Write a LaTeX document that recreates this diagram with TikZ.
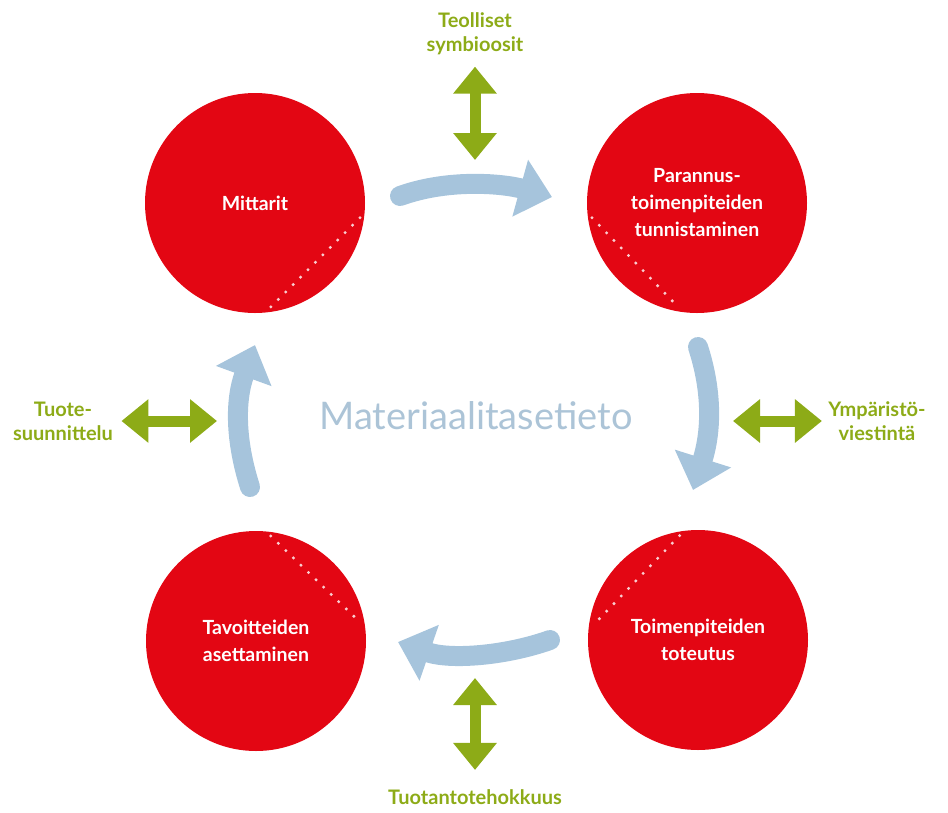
\documentclass[tikz,border=0pt]{standalone}
\usepackage{fontspec}
\setmainfont{Lato}
\usetikzlibrary{arrows.meta,calc}
\definecolor{mred}{RGB}{227,6,19}
\definecolor{flowblue}{RGB}{166,196,220}
\definecolor{textblue}{RGB}{172,196,215}
\definecolor{leafgreen}{RGB}{141,171,23}
\tikzset{>=stealth}
\tikzset{
  stage/.style={circle, fill=mred, minimum size=220pt, inner sep=0pt,
    text=white, font=\bfseries\fontsize{19.5}{27}\selectfont, align=center},
  dotline/.style={draw=white, line width=3.4pt, line cap=round,
    dash pattern=on 0pt off 10.5pt, opacity=.8},
  flow/.style={draw=flowblue, line width=20pt, line cap=round,
    -{Triangle[length=33pt,width=57pt]}},
  link/.style={draw=leafgreen, line width=11pt,
    {Triangle[length=27pt,width=42pt]}-{Triangle[length=27pt,width=42pt]}},
  side/.style={text=leafgreen, font=\bfseries\fontsize{20}{24}\selectfont,
    align=center}
}

\begin{document}
\begin{tikzpicture}[x=1pt,y=-1pt]
    \useasboundingbox (0,0) rectangle (948,812);
    % the four stages
    \node[stage] (mit) at (255,203) {Mittarit};
    \node[stage] (par) at (697,203) {Parannus-\\toimenpiteiden\\tunnistaminen};
    \node[stage] (tot) at (698,640) {Toimenpiteiden\\toteutus};
    \node[stage] (tav) at (256,641) {Tavoitteiden\\asettaminen};
    \draw[dotline] ($(mit)+(-8:106pt)$) -- ($(mit)+(-82:106pt)$);
    \draw[dotline] ($(par)+(188:106pt)$) -- ($(par)+(260:106pt)$);
    \draw[dotline] ($(tot)+(100:106pt)$) -- ($(tot)+(172:106pt)$);
    \draw[dotline] ($(tav)+(82:106pt)$) -- ($(tav)+(10:106pt)$);

    \node[text=textblue, font=\fontsize{38}{44}\selectfont] (mat) at (476,416) {Materiaalitasetieto};

    % cycle
    \coordinate (f1s) at (400,196);
    \coordinate (f1e) at (552,197);
    \coordinate (f2s) at (698,347);
    \coordinate (f2e) at (693,490);
    \coordinate (f3s) at (550,640);
    \coordinate (f3e) at (398,642);
    \coordinate (f4s) at (250,487);
    \coordinate (f4e) at (255,345);
    \draw[flow] (f1s) .. controls (450,178) and (505,184) .. (f1e);
    \draw[flow] (f2s) .. controls (712,390) and (712,430) .. (f2e);
    \draw[flow] (f3s) .. controls (505,656) and (450,660) .. (f3e);
    \draw[flow] (f4s) .. controls (235,440) and (235,400) .. (f4e);

    % outside links
    \node[side] (teo) at (475,34) {Teolliset\\symbioosit};
    \node[side] (tuo) at (63,421) {Tuote-\\suunnittelu};
    \node[side] (ymp) at (877,421) {Ympäristö-\\viestintä};
    \node[side] (tuot) at (475,797) {Tuotantotehokkuus};
    \coordinate (teoB) at (475,160);
    \coordinate (tuoB) at (217,421);
    \coordinate (ympB) at (733,421);
    \coordinate (tuotB) at (475,678);
    \draw[link, shorten <=8pt] (teo) -- (teoB);
    \draw[link, shorten <=5pt] (tuo) -- (tuoB);
    \draw[link, shorten <=3pt] (ymp) -- (ympB);
    \draw[link, shorten <=16pt] (tuot) -- (tuotB);
\end{tikzpicture}
\end{document}
